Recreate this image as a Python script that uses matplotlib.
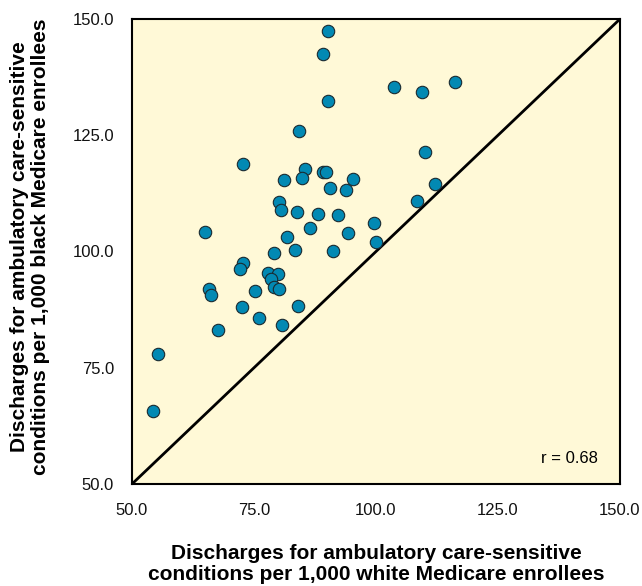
import numpy as np
import matplotlib
matplotlib.use('Agg')
import matplotlib.pyplot as plt

plt.rcParams['font.family'] = ['Liberation Sans', 'DejaVu Sans']

# Tasas de altas por 1,000 afiliados (blancos vs negros)
blancos = [90.2, 89.1, 90.2, 84.2, 72.8, 85.4, 89.1, 89.8, 81.1, 84.8,
           95.2, 90.6, 93.8, 80.1, 80.5, 83.8, 88.1, 92.3, 99.5, 65.0,
           86.5, 94.3, 81.8, 100.0, 79.2, 83.5, 91.1, 72.8, 72.2, 77.9,
           80.0, 78.4, 79.1, 80.1, 65.7, 66.1, 75.3, 72.5, 84.1, 76.1,
           80.8, 67.6, 55.4, 54.4, 103.7, 109.4, 116.1, 110.1, 112.0, 108.5]
negros = [147.4, 142.5, 132.3, 125.9, 118.8, 117.8, 117.0, 117.0, 115.3, 115.7,
          115.5, 113.7, 113.2, 110.7, 108.9, 108.4, 108.0, 107.8, 106.1, 104.3,
          105.0, 104.0, 103.1, 102.1, 99.6, 100.4, 100.2, 97.5, 96.3, 95.3,
          95.2, 94.0, 92.4, 91.9, 92.0, 90.6, 91.6, 88.1, 88.2, 85.6,
          84.1, 83.2, 78.0, 65.8, 135.3, 134.4, 136.4, 121.3, 114.6, 110.8]
ticks = [50.0, 75.0, 100.0, 125.0, 150.0]
r_texto = 'r = 0.68'

fig = plt.figure(figsize=(6.42, 5.86), dpi=100)
ax = fig.add_axes([132 / 642, 1 - 484 / 586, 488 / 642, 465 / 586])
ax.set_facecolor('#FFF9D7')

# Línea de igualdad
ax.plot([50, 150], [50, 150], color='black', linewidth=2, zorder=2)

ax.scatter(blancos, negros, s=80, color='#0289B3', edgecolor='#1a2a30',
           linewidth=0.8, zorder=3)

ax.set_xlim(50, 150)
ax.set_ylim(50, 150)
ax.set_xticks(ticks)
ax.set_yticks(ticks)
ax.set_xticklabels([f'{t:.1f}' for t in ticks])
ax.set_yticklabels([f'{t:.1f}' for t in ticks])
ax.tick_params(length=0, labelsize=12, colors='#111111')
ax.tick_params(axis='x', pad=14)
ax.tick_params(axis='y', pad=13)
for s in ax.spines.values():
    s.set_linewidth(1.5)
    s.set_color('black')

ax.text(145.5, 55.4, r_texto, ha='right', va='center', fontsize=12)

# Títulos de los ejes
fig.text(376 / 642, 1 - 564 / 586,
         'Discharges for ambulatory care-sensitive\n'
         'conditions per 1,000 white Medicare enrollees',
         ha='center', va='center', fontsize=15, fontweight='bold',
         linespacing=1.15)
fig.text(30 / 642, 1 - 247 / 586,
         'Discharges for ambulatory care-sensitive\n'
         'conditions per 1,000 black Medicare enrollees',
         ha='center', va='center', rotation=90, fontsize=15,
         fontweight='bold', linespacing=1.15)

fig.savefig('out.png', dpi=100)
